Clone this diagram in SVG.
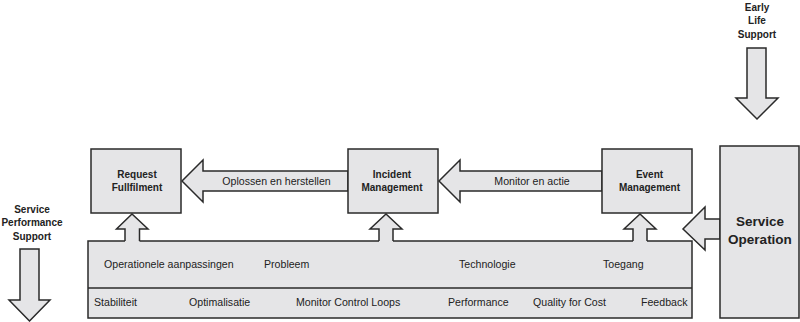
<svg xmlns="http://www.w3.org/2000/svg" width="800" height="322" viewBox="0 0 800 322">
<style>
.box{fill:#e5e5e7;stroke:#2a2a2a;stroke-width:1.5}
.arr{fill:#e5e5e7;stroke:#2a2a2a;stroke-width:1.5;stroke-linejoin:miter}
.af{fill:#e5e5e7;stroke:none}
.ln{fill:none;stroke:#2a2a2a;stroke-width:1.5}
text{font-family:"Liberation Sans",Arial,sans-serif;fill:#222;text-anchor:middle}
.b{font-weight:bold;font-size:10px}
.r{font-size:10.6px}
.big{font-weight:bold;font-size:13.5px}
.l{text-anchor:start}
</style>
<rect width="800" height="322" fill="#fff"/>
<g id="panel">
<rect class="box" x="88" y="241" width="604" height="77"/>
<line class="ln" x1="88" y1="288" x2="692" y2="288"/>
<text class="r l" x="104" y="268">Operationele aanpassingen</text>
<text class="r l" x="264" y="268">Probleem</text>
<text class="r l" x="459" y="268">Technologie</text>
<text class="r l" x="603" y="268">Toegang</text>
<text class="r l" x="94" y="306">Stabiliteit</text>
<text class="r l" x="189" y="306">Optimalisatie</text>
<text class="r l" x="296" y="306">Monitor Control Loops</text>
<text class="r l" x="448" y="306">Performance</text>
<text class="r l" x="533" y="306">Quality for Cost</text>
<text class="r l" x="641" y="306">Feedback</text>
</g>
<g id="connectors">
<polygon class="arr" points="348,171 203,171 203,160 182,181 203,202 203,191 348,191"/>
<polygon class="arr" points="602,171 460,171 460,160 439,181 460,202 460,191 602,191"/>
<polygon class="arr" points="720,219 705,219 705,207 683,229 705,250 705,239 720,239"/>
<polygon class="arr" points="747,48 766,48 766,98 778,98 757,119 736,98 747,98"/>
<polygon class="arr" points="20,249 39,249 39,300 50,300 29.5,321 9,300 20,300"/>
<polygon class="af" points="125,242.5 125,229 116.5,229 132,214 148,229 139.5,229 139.5,242.5"/>
<polyline class="ln" points="125,241 125,229 116.5,229 132,214 148,229 139.5,229 139.5,241"/>
<polygon class="af" points="379,242.5 379,229 370,229 386,214 402,229 393,229 393,242.5"/>
<polyline class="ln" points="379,241 379,229 370,229 386,214 402,229 393,229 393,241"/>
<polygon class="af" points="633,242.5 633,229 624,229 640,214 656,229 647,229 647,242.5"/>
<polyline class="ln" points="633,241 633,229 624,229 640,214 656,229 647,229 647,241"/>
<text class="r" x="276.5" y="185">Oplossen en herstellen</text>
<text class="r" x="532" y="185">Monitor en actie</text>
</g>
<g id="request">
<rect class="box" x="91" y="149" width="90" height="64"/>
<text class="b" x="137" y="178">Request</text>
<text class="b" x="137" y="191">Fullfilment</text>
</g>
<g id="incident">
<rect class="box" x="348" y="149" width="90" height="64"/>
<text class="b" x="392" y="178">Incident</text>
<text class="b" x="392" y="191">Management</text>
</g>
<g id="event">
<rect class="box" x="602" y="149" width="90" height="64"/>
<text class="b" x="649.5" y="178">Event</text>
<text class="b" x="649.5" y="191">Management</text>
</g>
<g id="service-operation">
<rect class="box" x="720" y="146" width="79" height="172"/>
<text class="big" x="760" y="226">Service</text>
<text class="big" x="760" y="244">Operation</text>
</g>
<g id="early-life-support">
<text class="b" x="757" y="11">Early</text>
<text class="b" x="757" y="24">Life</text>
<text class="b" x="757" y="38">Support</text>
</g>
<g id="service-performance-support">
<text class="b" x="32" y="213">Service</text>
<text class="b" x="32" y="226">Performance</text>
<text class="b" x="32" y="240">Support</text>
</g>
</svg>
